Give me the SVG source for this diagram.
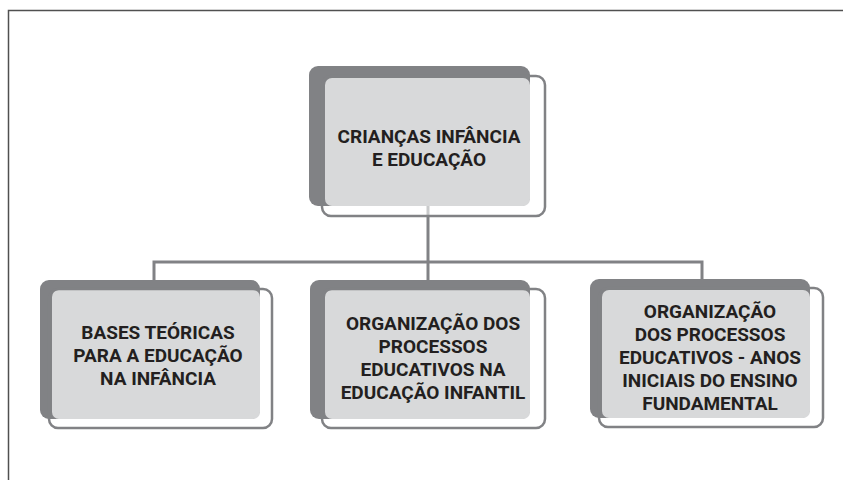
<svg xmlns="http://www.w3.org/2000/svg" width="843" height="480" viewBox="0 0 843 480">
<style>
.dark{fill:#818285;}
.light{fill:#d8d9da;}
.outline{fill:none;stroke:#818285;stroke-width:2.5;}
.t{font-family:Roboto,"Liberation Sans",sans-serif;font-weight:bold;font-size:19px;fill:#231f20;text-anchor:middle;}
.conn{fill:none;stroke:#818285;stroke-width:3;}
</style>
<rect x="0" y="0" width="843" height="480" fill="#ffffff"/>
<path d="M8.5 480 V10.5 H843" fill="none" stroke="#505050" stroke-width="1.5"/>
<g id="connectors">
<line x1="428" y1="206" x2="428" y2="216" stroke="#c9cacb" stroke-width="3"/>
<line x1="428" y1="216" x2="428" y2="286" class="conn"/>
<path d="M154 282 V262 H702 V281" class="conn"/>
</g>
<g id="node-top">
<rect class="dark" x="309" y="66" width="221" height="140" rx="9"/>
<rect class="light" x="325" y="78" width="205" height="128" rx="7"/>
<rect class="outline" x="322" y="76" width="223" height="140" rx="9"/>
<text class="t" x="429" y="143">CRIANÇAS INFÂNCIA</text>
<text class="t" x="429" y="166">E EDUCAÇÃO</text>
</g>
<g id="node-left">
<rect class="dark" x="40" y="280" width="220" height="139" rx="9"/>
<rect class="light" x="52" y="290" width="208" height="129" rx="7"/>
<rect class="outline" x="49" y="289" width="223" height="139" rx="9"/>
<text class="t" x="158" y="339">BASES TEÓRICAS</text>
<text class="t" x="158" y="362">PARA A EDUCAÇÃO</text>
<text class="t" x="158" y="385">NA INFÂNCIA</text>
</g>
<g id="node-middle">
<rect class="dark" x="310" y="280" width="220" height="139" rx="9"/>
<rect class="light" x="325" y="290" width="205" height="129" rx="7"/>
<rect class="outline" x="322" y="289" width="223" height="139" rx="9"/>
<text class="t" x="433" y="330">ORGANIZAÇÃO DOS</text>
<text class="t" x="433" y="353">PROCESSOS</text>
<text class="t" x="433" y="376">EDUCATIVOS NA</text>
<text class="t" x="433" y="399">EDUCAÇÃO INFANTIL</text>
</g>
<g id="node-right">
<rect class="dark" x="590" y="279" width="220" height="139" rx="9"/>
<rect class="light" x="602" y="290" width="208" height="128" rx="7"/>
<rect class="outline" x="599" y="288" width="224" height="139" rx="9"/>
<text class="t" x="710" y="318">ORGANIZAÇÃO</text>
<text class="t" x="710" y="341">DOS PROCESSOS</text>
<text class="t" x="710" y="364">EDUCATIVOS - ANOS</text>
<text class="t" x="710" y="387">INICIAIS DO ENSINO</text>
<text class="t" x="710" y="410">FUNDAMENTAL</text>
</g>
</svg>
